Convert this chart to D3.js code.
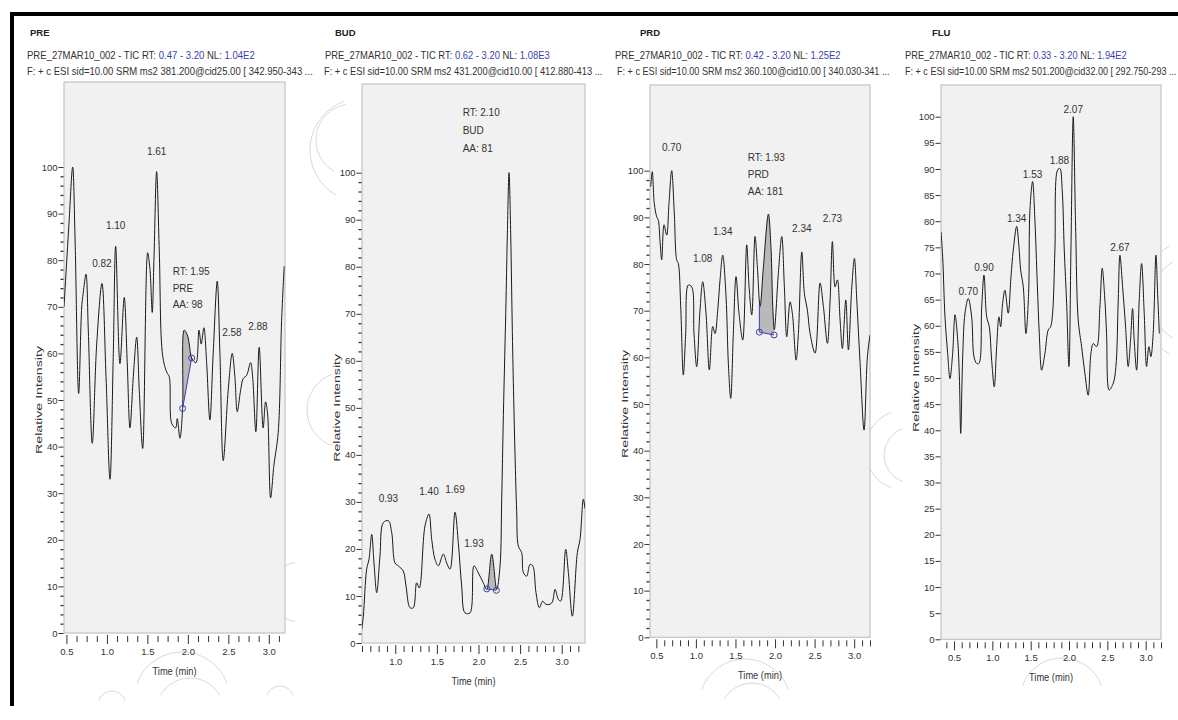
<!DOCTYPE html>
<html><head><meta charset="utf-8">
<script src="https://cdn.jsdelivr.net/npm/d3@7"></script>
<style>
body{margin:0;background:#fff;}
svg text{font-family:"Liberation Sans Narrow","Liberation Sans",Arial,sans-serif;fill:#333;}
</style></head><body>
<svg id="chart" width="1178" height="720"></svg>
<script>
// ---------------- DATA ----------------
const panelNames = ["PRE", "BUD", "PRD", "FLU"];
const rtRanges = ["0.47 - 3.20", "0.62 - 3.20", "0.42 - 3.20", "0.33 - 3.20"];
const nlValues = ["1.04E2", "1.08E3", "1.25E2", "1.94E2"];
const filterLines = [
  "F: + c ESI sid=10.00  SRM ms2  381.200@cid25.00 [ 342.950-343 ...",
  "F: + c ESI sid=10.00  SRM ms2  431.200@cid10.00 [ 412.880-413 ...",
  "F: + c ESI sid=10.00  SRM ms2  360.100@cid10.00 [ 340.030-341 ...",
  "F: + c ESI sid=10.00  SRM ms2  501.200@cid32.00 [ 292.750-293 ..."
];
const timeDomains = [[0.47, 3.20], [0.60, 3.28], [0.42, 3.20], [0.33, 3.20]];
const xTickValues = [0.5, 1.0, 1.5, 2.0, 2.5, 3.0];
const yTicksTen = [0, 10, 20, 30, 40, 50, 60, 70, 80, 90, 100];
const yTicksFive = [0, 5, 10, 15, 20, 25, 30, 35, 40, 45, 50, 55, 60, 65, 70, 75, 80, 85, 90, 95, 100];

const preTrace = [[0.470,70],[0.532,88],[0.577,100],[0.606,85],[0.651,51.4],[0.689,70],[0.708,73],[0.742,77],[0.770,65],[0.819,40.7],[0.874,62],[0.939,75],[0.989,55],[1.038,33],[1.079,60],[1.108,83],[1.161,57.8],[1.214,72],[1.251,58],[1.285,44],[1.326,55],[1.368,63.5],[1.400,52],[1.442,39.6],[1.503,81.6],[1.532,78],[1.560,68.8],[1.581,80],[1.614,99],[1.647,82],[1.688,59.6],[1.738,56],[1.770,55],[1.800,45],[1.849,44],[1.869,46],[1.902,41.8],[1.935,48.2],[1.955,65],[1.992,64],[2.017,62],[2.047,59],[2.100,58],[2.137,65],[2.165,62],[2.198,65.5],[2.232,58],[2.272,45.7],[2.313,60],[2.363,75.5],[2.396,60],[2.437,37],[2.498,52],[2.548,60],[2.581,55],[2.610,47.5],[2.651,52],[2.684,54.6],[2.726,55.3],[2.775,58],[2.800,55],[2.840,43.2],[2.881,61.3],[2.930,44],[2.960,49.6],[2.985,47],[3.022,29],[3.063,36],[3.116,43],[3.158,67],[3.190,78.7]];

const budTrace = [[0.596,2.8],[0.616,5.7],[0.656,15.7],[0.684,17.8],[0.717,23.1],[0.744,17],[0.777,10.7],[0.816,18.5],[0.856,25.6],[0.917,26],[0.957,23.5],[0.997,17],[1.036,16.4],[1.096,15.3],[1.129,12.1],[1.177,7.5],[1.217,7.5],[1.257,12.8],[1.289,11.7],[1.357,24.9],[1.405,27.4],[1.438,22],[1.477,17.8],[1.517,16.4],[1.577,18.9],[1.618,17],[1.658,15.7],[1.718,27.8],[1.757,21.4],[1.798,12.1],[1.838,6.4],[1.898,6.4],[1.946,16.4],[1.998,14.9],[2.058,12.8],[2.099,11.4],[2.159,18.9],[2.219,11.4],[2.259,16.4],[2.279,30.6],[2.299,48.4],[2.331,73],[2.347,87],[2.367,100],[2.387,87],[2.407,66],[2.423,52],[2.439,40],[2.459,28],[2.479,20.6],[2.519,19.2],[2.539,15],[2.579,14.2],[2.619,16.7],[2.652,16.4],[2.691,10.7],[2.731,7.5],[2.772,8.9],[2.812,8.2],[2.880,8.5],[2.920,11.4],[2.959,9.3],[2.988,8.9],[3.048,19.9],[3.080,15],[3.128,5.7],[3.188,19.2],[3.220,22],[3.260,30.6],[3.280,28.5]];

const prdTrace = [[0.429,96.6],[0.449,99.8],[0.474,93],[0.505,90.1],[0.525,89.4],[0.546,85.1],[0.568,80.9],[0.597,88.4],[0.631,86.2],[0.660,93],[0.694,100],[0.727,90.9],[0.757,80.9],[0.778,80.1],[0.808,70.9],[0.841,56.2],[0.871,65.1],[0.904,75.5],[0.947,75.1],[0.976,65.1],[1.010,58],[1.052,70.1],[1.086,76.2],[1.128,69.4],[1.170,57.3],[1.213,66.6],[1.242,65.1],[1.276,70.1],[1.305,76.6],[1.339,81.9],[1.381,73],[1.410,58.7],[1.440,51.2],[1.473,65.1],[1.507,77.3],[1.545,69.4],[1.592,63.7],[1.642,84.1],[1.672,75.1],[1.706,69.1],[1.747,85.9],[1.777,79.4],[1.811,70.9],[1.853,79.4],[1.916,90.7],[1.950,83],[1.971,70.9],[1.991,65.9],[2.042,78],[2.085,85.9],[2.118,75.1],[2.148,64.4],[2.190,71.9],[2.219,69.4],[2.266,59.4],[2.295,65.1],[2.338,82.6],[2.371,73.7],[2.409,70.1],[2.443,65.1],[2.506,60.9],[2.569,75.9],[2.611,70.9],[2.662,63],[2.696,72.3],[2.725,84.8],[2.759,75.1],[2.788,76.6],[2.822,68],[2.851,61.9],[2.894,72.3],[2.927,61.6],[2.970,75.1],[3.003,81.2],[3.033,72.3],[3.075,58.7],[3.125,44.4],[3.167,60.1],[3.200,64.8]];

const fluTrace = [[0.330,78],[0.352,73.2],[0.382,61.7],[0.417,54.7],[0.447,49.9],[0.482,54.7],[0.513,62.1],[0.548,57.3],[0.570,50],[0.587,39.4],[0.613,54.1],[0.643,62.4],[0.686,65.2],[0.730,61.7],[0.760,54.1],[0.795,52.8],[0.825,52.8],[0.861,63.6],[0.891,69.7],[0.926,61.7],[0.960,59.8],[0.991,53.4],[1.025,48.3],[1.056,56],[1.086,61.7],[1.108,59.8],[1.134,64.3],[1.164,66.8],[1.207,62.4],[1.243,69.4],[1.273,74.5],[1.317,79],[1.347,75.1],[1.369,70.7],[1.403,67.5],[1.438,58.5],[1.473,66.2],[1.490,82.1],[1.525,87.6],[1.555,80.2],[1.586,68.1],[1.612,58.5],[1.643,51.5],[1.686,54.7],[1.729,59.2],[1.760,59.8],[1.786,62.4],[1.816,74.5],[1.851,89.8],[1.881,90.1],[1.911,86],[1.938,74.5],[1.969,64.3],[1.999,52.2],[2.025,74.5],[2.055,100],[2.086,79],[2.120,61.1],[2.164,56],[2.207,50.9],[2.250,46.7],[2.286,54.7],[2.316,56.6],[2.360,56],[2.403,63.6],[2.433,71],[2.468,64.9],[2.490,58.5],[2.524,47.7],[2.577,49],[2.612,52.2],[2.642,64.9],[2.664,73.5],[2.699,67.5],[2.738,59.8],[2.772,52.2],[2.803,57.3],[2.829,63.3],[2.850,57.3],[2.882,51.5],[2.916,64.9],[2.947,71.9],[2.981,62.4],[3.012,52.2],[3.042,56],[3.068,54.1],[3.098,58.5],[3.134,73.5],[3.156,66.2],[3.178,58.5]];

// peak labels: [time, peak intensity, text]
const prePeaks = [[0.939,75,"0.82"],[1.108,83,"1.10"],[1.614,99,"1.61"],[2.544,60,"2.58"],[2.865,61.3,"2.88"]];
const budPeaks = [[0.917,26,"0.93"],[1.405,27.4,"1.40"],[1.718,27.8,"1.69"],[1.946,16.4,"1.93"]];
const prdPeaks = [[0.694,100,"0.70"],[1.086,76.2,"1.08"],[1.339,81.9,"1.34"],[2.338,82.6,"2.34"],[2.725,84.8,"2.73"]];
const fluPeaks = [[0.686,65.2,"0.70"],[0.891,69.7,"0.90"],[1.317,79,"1.34"],[1.525,87.6,"1.53"],[1.875,90.1,"1.88"],[2.055,100,"2.07"],[2.664,73.5,"2.67"]];

// RT annotation boxes: [time, intensity of first line, lines]
const rtNotes = [
  [1.812, 77.5, ["RT: 1.95", "PRE", "AA: 98"]],
  [1.81, 112.8, ["RT: 2.10", "BUD", "AA: 81"]],
  [1.655, 102.9, ["RT: 1.93", "PRD", "AA: 181"]],
  null
];
// integration baseline points [[t1,v1],[t2,v2]]
const integrations = [
  [[1.935, 48.2], [2.047, 59]],
  [[2.100, 11.5], [2.215, 11.2]],
  [[1.802, 65.4], [1.988, 64.8]],
  null
];

const traces = [preTrace, budTrace, prdTrace, fluTrace];
const peaks = [prePeaks, budPeaks, prdPeaks, fluPeaks];

// faint background watermark arcs: [cx, cy, r, startDeg, endDeg]
const watermarkArcs = [
  [182, 700, 48, 200, 340], [190, 712, 34, 210, 330], [300, 592, 30, 100, 260],
  [362, 150, 52, 120, 250], [352, 140, 36, 120, 260], [345, 410, 38, 110, 250],
  [745, 705, 46, 200, 340], [752, 715, 32, 210, 330], [905, 450, 40, 110, 250],
  [912, 455, 28, 110, 250], [1200, 300, 62, 120, 240], [1195, 300, 44, 120, 240],
  [1062, 700, 42, 200, 340], [112, 705, 14, 200, 340], [280, 700, 14, 200, 340]
];

// ---------------- LAYOUT ----------------
const layouts = [
  {left:64, right:285, top:82, bottom:633, y100:167, titleX:30, l2X:27, l2W:228, l3X:27, l3W:286, xMinor:0.125, yTicks:yTicksTen, yMinor:2, peakOff:17, noteGap:16.5},
  {left:362, right:585, top:84, bottom:643, y100:172.7, titleX:335, l2X:325, l2W:225, l3X:324, l3W:279, xMinor:0.1, yTicks:yTicksTen, yMinor:2, peakOff:19, noteGap:18},
  {left:650, right:870, top:85, bottom:637.3, y100:170.7, titleX:640, l2X:615, l2W:226, l3X:617, l3W:273, xMinor:0.1, yTicks:yTicksTen, yMinor:2, peakOff:20, noteGap:17},
  {left:941, right:1161, top:85, bottom:639.3, y100:116.7, titleX:932, l2X:905, l2W:222, l3X:905, l3W:272, xMinor:0.1, yTicks:yTicksFive, yMinor:null, peakOff:4, noteGap:17}
];

const BLUE = "#3b3fae";
const svg = d3.select("#chart");

// watermark
const wm = svg.append("g").attr("fill", "none").attr("stroke", "#d9d9d9").attr("stroke-width", 1);
watermarkArcs.forEach(a => {
  const p = d3.path();
  const toR = d => d * Math.PI / 180;
  p.arc(a[0], a[1], a[2], toR(a[3]), toR(a[4]));
  wm.append("path").attr("d", p.toString());
});

// frame
svg.append("rect").attr("x",10).attr("y",12).attr("width",1168).attr("height",4).attr("fill","#000");
svg.append("rect").attr("x",10).attr("y",12).attr("width",4).attr("height",694).attr("fill","#000");

function fitText(sel, x, y, w) {
  const n = sel.node().getComputedTextLength();
  sel.attr("transform", `translate(${x},${y}) scale(${w / n},1)`);
}

panelNames.forEach((name, i) => {
  const L = layouts[i];
  const g = svg.append("g");
  const x = d3.scaleLinear().domain(timeDomains[i]).range([L.left, L.right]);
  const y = d3.scaleLinear().domain([0, 100]).range([L.bottom, L.y100]);

  // headers
  g.append("text").text(name).attr("x", L.titleX).attr("y", 36)
    .style("font-size", "9.5px").style("font-weight", "bold").style("fill", "#222");
  const t2 = g.append("text").style("font-size", "10px");
  t2.append("tspan").text("PRE_27MAR10_002 - TIC RT: ");
  t2.append("tspan").text(rtRanges[i]).style("fill", BLUE);
  t2.append("tspan").text("  NL: ");
  t2.append("tspan").text(nlValues[i]).style("fill", BLUE);
  fitText(t2, L.l2X, 59, L.l2W);
  const t3 = g.append("text").style("font-size", "10px").text(filterLines[i]);
  fitText(t3, L.l3X, 75, L.l3W);

  // plot area
  g.append("rect").attr("x", L.left).attr("y", L.top)
    .attr("width", L.right - L.left).attr("height", L.bottom - L.top)
    .attr("fill", "#f1f1f1").attr("stroke", "#c4c4c4").attr("stroke-width", 1.2);

  const clipId = "clip" + i;
  svg.append("clipPath").attr("id", clipId).append("rect")
    .attr("x", L.left).attr("y", L.top).attr("width", L.right - L.left).attr("height", L.bottom - L.top);

  const curve = d3.curveCatmullRom.alpha(0.5);
  const data = traces[i];

  // integration fill
  const integ = integrations[i];
  if (integ) {
    const [p1, p2] = integ;
    const cid = "iclip" + i;
    svg.append("clipPath").attr("id", cid).append("polygon")
      .attr("points", [
        [x(p1[0]), y(p1[1])], [x(p2[0]), y(p2[1])], [x(p2[0]), L.top], [x(p1[0]), L.top]
      ].map(p => p.join(",")).join(" "));
    g.append("path").datum(data)
      .attr("clip-path", `url(#${cid})`)
      .attr("fill", "#b9b9b9")
      .attr("d", d3.area().x(d => x(d[0])).y0(L.bottom).y1(d => y(d[1])).curve(curve));
  }

  // trace
  g.append("path").datum(data)
    .attr("clip-path", `url(#${clipId})`)
    .attr("fill", "none").attr("stroke", "#1a1a1a").attr("stroke-width", 1)
    .attr("d", d3.line().x(d => x(d[0])).y(d => y(d[1])).curve(curve));

  if (integ) {
    const [p1, p2] = integ;
    if (i === 2) {
      g.append("line").attr("x1", x(p1[0])).attr("x2", x(p1[0]))
        .attr("y1", y(p1[1])).attr("y2", y(71.5)).attr("stroke", BLUE).attr("stroke-width", 1);
    }
    g.append("line").attr("x1", x(p1[0])).attr("y1", y(p1[1]))
      .attr("x2", x(p2[0])).attr("y2", y(p2[1])).attr("stroke", BLUE).attr("stroke-width", 1);
    g.selectAll("circle.ib").data(integ).join("circle")
      .attr("cx", d => x(d[0])).attr("cy", d => y(d[1])).attr("r", 3)
      .attr("fill", "none").attr("stroke", BLUE).attr("stroke-width", 1);
  }

  // peak labels
  g.selectAll("text.pk").data(peaks[i]).join("text")
    .attr("x", d => x(d[0])).attr("y", d => y(d[1]) - L.peakOff)
    .attr("text-anchor", "middle").style("font-size", "10px").text(d => d[2]);

  // RT note
  const note = rtNotes[i];
  if (note) {
    g.selectAll("text.nt").data(note[2]).join("text")
      .attr("x", x(note[0])).attr("y", (d, k) => y(note[1]) + 3.5 + k * L.noteGap)
      .style("font-size", "10px").text(d => d);
  }

  // axes
  const styleAxis = a => {
    a.select(".domain").remove();
    a.selectAll("line").attr("stroke", "#333");
    a.selectAll("text").style("font-size", "9.5px").attr("fill", "#333");
  };
  const yAxis = g.append("g").attr("transform", `translate(${L.left - 0.5},0)`)
    .call(d3.axisLeft(y).tickValues(L.yTicks).tickSize(5).tickPadding(1).tickFormat(d3.format("d")));
  styleAxis(yAxis);
  if (L.yMinor) {
    const minor = d3.range(0, 100.001, L.yMinor).filter(v => v % 10 !== 0);
    const ym = g.append("g").attr("transform", `translate(${L.left - 0.5},0)`)
      .call(d3.axisLeft(y).tickValues(minor).tickSize(3).tickFormat(""));
    styleAxis(ym);
    ym.selectAll("line").attr("stroke-width", 1.3);
  }
  const xAxis = g.append("g").attr("transform", `translate(0,${L.bottom + 2})`)
    .call(d3.axisBottom(x).tickValues(xTickValues.filter(v => v >= timeDomains[i][0] && v <= timeDomains[i][1]))
      .tickSize(9).tickPadding(4).tickFormat(d3.format(".1f")));
  styleAxis(xAxis);
  const xMinorVals = d3.range(Math.ceil(timeDomains[i][0] / L.xMinor) * L.xMinor, timeDomains[i][1] + 1e-6, L.xMinor)
    .filter(v => Math.abs(v * 2 - Math.round(v * 2)) > 1e-6);
  const xm = g.append("g").attr("transform", `translate(0,${L.bottom + 3})`)
    .call(d3.axisBottom(x).tickValues(xMinorVals).tickSize(6).tickFormat(""));
  styleAxis(xm);

  // axis titles
  g.append("text").text("Relative Intensity")
    .attr("text-anchor", "middle").style("font-size", "9px")
    .attr("textLength", 108).attr("lengthAdjust", "spacingAndGlyphs")
    .attr("transform", `translate(${L.left - 22},${(L.bottom + L.y100) / 2}) rotate(-90)`);
  g.append("text").text("Time (min)")
    .attr("x", (L.left + L.right) / 2).attr("y", L.bottom + 42)
    .attr("text-anchor", "middle").style("font-size", "10px")
    .attr("textLength", 44).attr("lengthAdjust", "spacingAndGlyphs");
});
</script>
</body></html>
